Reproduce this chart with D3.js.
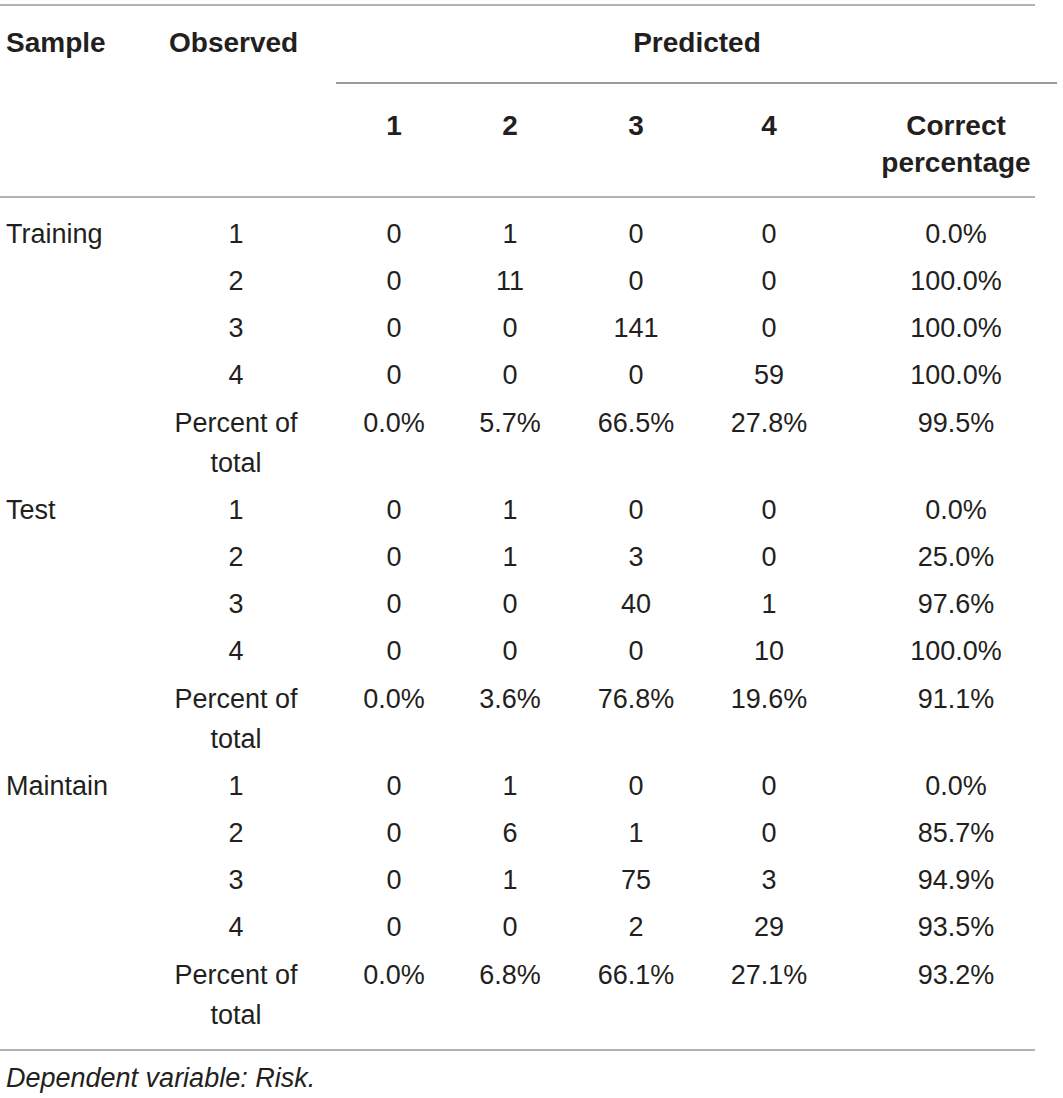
<!DOCTYPE html>
<html>
<head>
  <meta charset="utf-8">
  <title>Classification table</title>
  <style>
    body { margin: 0; background: #fff; }
    svg { display: block; }
    text { font-family: "Liberation Sans", Arial, sans-serif; fill: #231f20; }
    .hd { font-weight: bold; font-size: 28px; }
    .cell { font-size: 27px; }
    .note { font-size: 27px; font-style: italic; }
  </style>
</head>
<body>
<svg id="tbl" width="1063" height="1098"></svg>
<script src="https://d3js.org/d3.v7.min.js"></script>
<script>
// table content
const samples = ["Training", "Test", "Maintain"];
const observed = ["1", "2", "3", "4", "Percent of|total"];
const predicted = ["1", "2", "3", "4"];

const trainingCounts = [[0, 1, 0, 0], [0, 11, 0, 0], [0, 0, 141, 0], [0, 0, 0, 59]];
const trainingTotal = ["0.0%", "5.7%", "66.5%", "27.8%"];
const trainingCorrect = ["0.0%", "100.0%", "100.0%", "100.0%", "99.5%"];

const testCounts = [[0, 1, 0, 0], [0, 1, 3, 0], [0, 0, 40, 1], [0, 0, 0, 10]];
const testTotal = ["0.0%", "3.6%", "76.8%", "19.6%"];
const testCorrect = ["0.0%", "25.0%", "97.6%", "100.0%", "91.1%"];

const maintainCounts = [[0, 1, 0, 0], [0, 6, 1, 0], [0, 1, 75, 3], [0, 0, 2, 29]];
const maintainTotal = ["0.0%", "6.8%", "66.1%", "27.1%"];
const maintainCorrect = ["0.0%", "85.7%", "94.9%", "93.5%", "93.2%"];

const footnote = "Dependent variable: Risk.";

const groups = [
  {name: samples[0], counts: trainingCounts, total: trainingTotal, correct: trainingCorrect},
  {name: samples[1], counts: testCounts, total: testTotal, correct: testCorrect},
  {name: samples[2], counts: maintainCounts, total: maintainTotal, correct: maintainCorrect}
];

const svg = d3.select("#tbl");

// column centres
const cols = ["obs"].concat(predicted.map(p => "p" + p), ["correct"]);
const x = d3.scaleOrdinal().domain(cols).range([236, 394, 510, 636, 769, 956]);
const sampleX = 6;

// rows: group offset + row within group
const yGroup = d3.scaleLinear().domain([0, 2]).range([233, 785]);
const yRow = d3.scaleLinear().domain([0, 4]).range([0, 189]);
const lineGap = 40, base = 9.5;

function rule(x1, x2, y, c) {
  svg.append("line").attr("x1", x1).attr("x2", x2).attr("y1", y).attr("y2", y)
    .attr("stroke", c || "#9a9a9a").attr("stroke-width", 1.5);
}

// header
rule(0, 1035, 5);
svg.append("text").attr("class", "hd").attr("x", sampleX).attr("y", 42 + base).text("Sample");
svg.append("text").attr("class", "hd").attr("x", 169).attr("y", 42 + base).text("Observed");
svg.append("text").attr("class", "hd").attr("x", 697).attr("y", 42 + base)
  .attr("text-anchor", "middle").text("Predicted");
rule(336, 1057, 83, "#7a7a7a");
svg.selectAll("text.ph").data(predicted).join("text")
  .attr("class", "hd ph").attr("text-anchor", "middle")
  .attr("x", d => x("p" + d)).attr("y", 125 + base).text(d => d);
svg.selectAll("text.ch").data(["Correct", "percentage"]).join("text")
  .attr("class", "hd ch").attr("text-anchor", "middle")
  .attr("x", x("correct")).attr("y", (d, i) => 125 + i * 37 + base).text(d => d);
rule(0, 1035, 197);

// body
const cells = [];
groups.forEach((g, gi) => {
  const y0 = yGroup(gi);
  cells.push({x: sampleX, y: y0, t: g.name, a: "start"});
  observed.forEach((o, ri) => {
    const y = y0 + yRow(ri);
    o.split("|").forEach((part, k) => cells.push({x: x("obs"), y: y + k * lineGap, t: part, a: "middle"}));
    const vals = ri < 4 ? g.counts[ri] : g.total;
    vals.forEach((v, ci) => cells.push({x: x("p" + predicted[ci]), y: y, t: String(v), a: "middle"}));
    cells.push({x: x("correct"), y: y, t: g.correct[ri], a: "middle"});
  });
});

svg.selectAll("text.cell").data(cells).join("text")
  .attr("class", "cell")
  .attr("x", d => d.x).attr("y", d => d.y + base)
  .attr("text-anchor", d => d.a)
  .text(d => d.t);

rule(0, 1035, 1050);
svg.append("text").attr("class", "note").attr("x", sampleX).attr("y", 1077 + base).text(footnote);
</script>
</body>
</html>
